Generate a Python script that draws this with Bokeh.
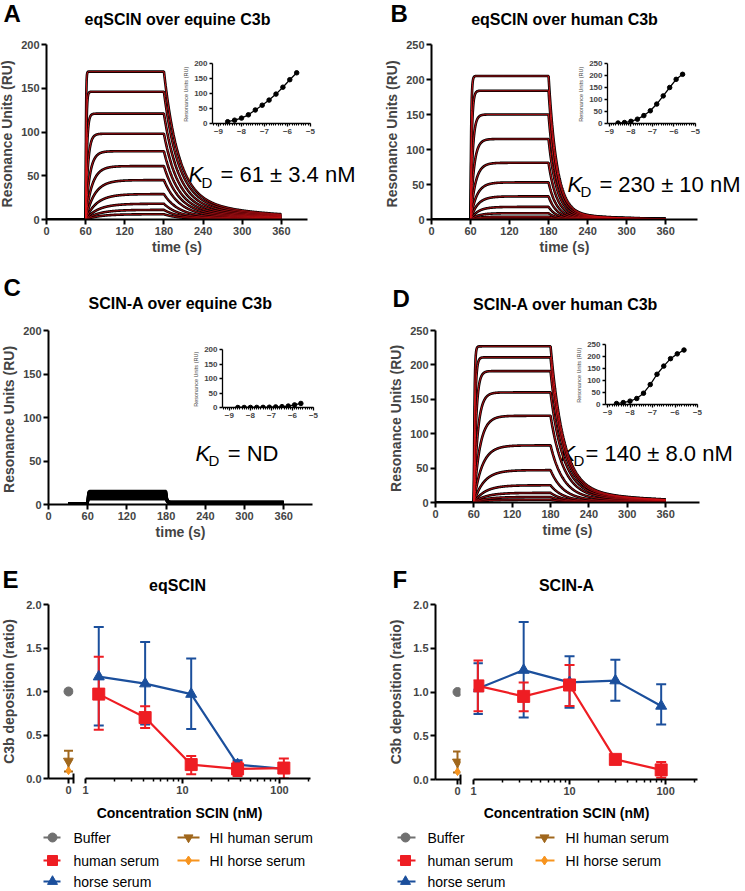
import numpy as np
from bokeh.plotting import figure
from bokeh.layouts import column
from bokeh.models import (Range1d, FixedTicker, SingleIntervalTicker, NumeralTickFormatter,
                          Label, Whisker, TeeHead, ColumnDataSource)
from bokeh.embed import file_html
from bokeh.resources import INLINE

FONT = "Liberation Sans"

# ---------------- data ----------------
log_conc = [-5.6, -5.9, -6.2, -6.5, -6.8, -7.1, -7.4, -7.7, -8.0, -8.3, -8.6]
ru_A = [169, 146, 121, 98, 78, 61, 45, 29, 18, 11, 6]
ru_B = [205, 184, 150, 115, 81, 53, 33, 18, 9, 4, 2]
ru_D = [227, 211, 191, 160, 126, 83, 47, 25, 14, 8, 4]
ru_C = [14, 9, 5, 3, 2, 1, 0.5, 0.3, 0.2, 0.1, 0]
spr_C_levels = [14.5, 13.5, 12.5, 11.5, 10.5, 9.5, 8.5, 7.5, 6.5, 5.5, 5.0]
spr_C_base = 1.0

# kinetic read-outs used for the fitted sensorgrams (1:1 model)
kd_nM = {"A": 61, "B": 230, "D": 140}
koff_fast = {"A": 0.045, "B": 0.08, "D": 0.05}
frac_fast = {"A": 0.85, "B": 0.95, "D": 0.90}
koff_slow = {"A": 0.008, "B": 0.012, "D": 0.009}

time_ticks = [0, 60, 120, 180, 240, 300, 360]
ru_ticks_200 = [0, 50, 100, 150, 200]
ru_ticks_250 = [0, 50, 100, 150, 200, 250]
ratio_ticks = [0.0, 0.5, 1.0, 1.5, 2.0]

conc_E = [1.37, 4.12, 12.3, 37, 111]
human_E = [0.97, 0.70, 0.16, 0.11, 0.12]
human_E_lo = [0.56, 0.58, 0.05, 0.03, 0.0]
human_E_hi = [1.40, 0.83, 0.26, 0.19, 0.23]
horse_E = [1.17, 1.09, 0.97, 0.16, 0.11]
horse_E_lo = [0.61, 0.62, 0.57, 0.11, 0.08]
horse_E_hi = [1.74, 1.57, 1.38, 0.21, 0.14]

conc_F = [1.11, 3.33, 10, 30, 90]
human_F = [1.07, 0.95, 1.08, 0.23, 0.11]
human_F_lo = [0.78, 0.78, 0.84, 0.21, 0.02]
human_F_hi = [1.36, 1.11, 1.31, 0.25, 0.20]
horse_F = [1.04, 1.25, 1.11, 1.13, 0.84]
horse_F_lo = [0.75, 0.71, 0.82, 0.90, 0.63]
horse_F_hi = [1.33, 1.80, 1.41, 1.37, 1.09]

buffer_val = 1.0
hi_human = 0.20
hi_human_lo = 0.08
hi_human_hi = 0.32
hi_horse = 0.09

legend_names = ["Buffer", "human serum", "horse serum", "HI human serum", "HI horse serum"]

RED = "#EE1D23"
BLUE = "#1B4F9C"
GRAY = "#707070"
BROWN = "#A0671C"
ORANGE = "#F7941E"
FITRED = "#E3161C"

W, H = 745, 891
XS, YS = 372, 560          # split of the annotation layer into four pieces
PADL, PADT, PADR, PADB = 100, 40, 40, 60


# ---------------- helpers ----------------
def make_fig(frame, xr, yr, x_log=False, axes=True):
    l, t, r, b = frame
    kw = dict(x_axis_type="log") if x_log else {}
    if not axes:
        kw.update(x_axis_location=None, y_axis_location=None)
    p = figure(width=r - l + PADL + PADR, height=b - t + PADT + PADB,
               x_range=Range1d(*xr), y_range=Range1d(*yr), title=None,
               output_backend="svg", toolbar_location=None,
               min_border_left=PADL, min_border_top=PADT, min_border_right=PADR,
               min_border_bottom=PADB, background_fill_color=None,
               border_fill_color=None, outline_line_color=None, **kw)
    p.styles = {"position": "absolute", "left": f"{l - PADL}px", "top": f"{t - PADT}px"}
    p.grid.visible = False
    return p


def style_axes(p, size="11px", lw=2.0, tick=5, lab="14px", standoff=3):
    for ax in p.axis:
        ax.axis_line_width = lw
        ax.major_tick_line_width = lw
        ax.major_tick_out = tick
        ax.major_tick_in = 0
        ax.minor_tick_line_color = None
        ax.major_label_text_font = FONT
        ax.major_label_text_font_style = "bold"
        ax.major_label_text_font_size = size
        ax.major_label_standoff = 2
        ax.axis_label_text_font = FONT
        ax.axis_label_text_font_style = "bold"
        ax.axis_label_text_font_size = lab
        ax.axis_label_standoff = standoff


def sensorgram(level, logc, key):
    t = np.arange(0.0, 360.5, 0.5)
    kf, ff, ks = koff_fast[key], frac_fast[key], koff_slow[key]
    ka = kf / (kd_nM[key] * 1e-9)
    kobs = ka * 10 ** logc + kf
    r = np.zeros_like(t)
    a = (t >= 60) & (t <= 180)
    req = level / (1 - np.exp(-kobs * 120))
    r[a] = req * (1 - np.exp(-kobs * (t[a] - 60)))
    d = t > 180
    r[d] = level * (ff * np.exp(-kf * (t[d] - 180)) + (1 - ff) * np.exp(-ks * (t[d] - 180)))
    return t, r


def spr_panel(frame, xmax, ymax, yticks):
    p = make_fig(frame, (0, xmax), (0, ymax))
    style_axes(p)
    p.xaxis.ticker = FixedTicker(ticks=time_ticks)
    p.yaxis.ticker = FixedTicker(ticks=yticks)
    p.xaxis.axis_label = "time (s)"
    p.yaxis.axis_label = "Resonance Units  (RU)"
    p.xaxis.axis_label_standoff = 1
    return p


def inset_fig(frame, xmin, ymax, yticks, ys):
    p = make_fig(frame, (xmin, -5), (0, ymax))
    style_axes(p, size="8px", lw=1.3, tick=3, lab="5.5px", standoff=2)
    p.xaxis.ticker = SingleIntervalTicker(interval=1, num_minor_ticks=10)
    p.xaxis.minor_tick_line_color = "black"
    p.xaxis.minor_tick_out = 2
    p.xaxis.minor_tick_in = 0
    p.xaxis.minor_tick_line_width = 1
    p.yaxis.ticker = FixedTicker(ticks=yticks)
    p.yaxis.axis_label = "Resonance Units  (RU)"
    p.yaxis.axis_label_text_font_style = "normal"
    order = np.argsort(log_conc)
    xs_ = [log_conc[i] for i in order]
    ys_ = [ys[i] for i in order]
    p.line(xs_, ys_, line_color="black", line_width=1.3)
    p.scatter(xs_, ys_, size=4.5, color="black")
    return p


# ---------------- annotation layer (titles, letters, notes, legends) ----------------
pages = []
for (x0, y0, x1, y1) in [(0, 0, XS, YS), (XS, 0, W, YS), (0, YS, XS, H), (XS, YS, W, H)]:
    pages.append(make_fig((x0, y0, x1, y1), (x0, x1), (y1, y0), axes=False))


def page_for(x, y):
    return pages[(1 if x >= XS else 0) + (2 if y >= YS else 0)]


def lab(x, y, text, size, style="normal", align="left", color="black"):
    page_for(x, y).add_layout(Label(x=x, y=y, text=text, text_font=FONT, text_font_size=size,
                                    text_font_style=style, text_align=align,
                                    text_baseline="middle", text_color=color))


for x, y, s in [(3, 13, "A"), (390, 13, "B"), (3, 287, "C"), (392, 298, "D"),
                (2, 579, "E"), (392, 579, "F")]:
    lab(x, y, s, "24px", "bold")

for x, y, s in [(177, 19, "eqSCIN over equine C3b"), (564, 19, "eqSCIN over human C3b"),
                (180, 303, "SCIN-A over equine C3b"), (565, 304, "SCIN-A over human C3b"),
                (177, 585, "eqSCIN"), (566, 585, "SCIN-A")]:
    lab(x, y, s, "16px", "bold", "center")

for x, y in [(179, 812), (566, 812)]:
    lab(x, y, "Concentration SCIN (nM)", "14px", "bold", "center")

# K_D annotations
for kx, ky, rest, rx, ralign in [(188, 174, "= 61 \u00b1 3.4 nM", 355, "right"),
                                  (567, 183.5, "= 230 \u00b1 10 nM", 740, "right"),
                                  (195, 452.5, "= ND", 278, "right"),
                                  (560, 452.5, "= 140 \u00b1 8.0 nM", 585, "left")]:
    lab(kx, ky, "K", "22px", "italic")
    lab(kx + 13, ky + 7.5, "D", "15px")
    lab(rx, ky, rest, "22px", "normal", ralign)

# legends
leg_rows = [837, 860, 881]
leg_specs = [(0, 0, "circle", GRAY, 9), (0, 1, "square", RED, 10), (0, 2, "triangle", BLUE, 10),
             (1, 0, "inverted_triangle", BROWN, 9), (1, 1, "diamond", ORANGE, 9)]
for (c1, c2) in [((43, 60, 52, 73), (177, 199, 188, 209)),
                 ((397, 415, 405, 427), (535, 554, 544, 565))]:
    cols = [c1, c2]
    for (ci, ri, mk, colr, sz), name in zip(leg_specs, legend_names):
        x0, x1, xm, xt = cols[ci]
        y = leg_rows[ri]
        pg = page_for(xm, y)
        pg.line([x0, x1], [y, y], line_color=colr, line_width=2)
        pg.scatter([xm], [y], marker=mk, size=sz, color=colr)
        lab(xt, y, name, "14px")

# ---------------- SPR panels ----------------
pA = spr_panel((46, 44, 307, 219), 400, 200, ru_ticks_200)
pB = spr_panel((431, 44, 697, 219), 409, 250, ru_ticks_250)
pC = spr_panel((48, 330, 312, 504), 404, 200, ru_ticks_200)
pD = spr_panel((435, 330, 699, 502), 413, 250, ru_ticks_250)

for p, key, levels in [(pA, "A", ru_A), (pB, "B", ru_B), (pD, "D", ru_D)]:
    xs, ys = [], []
    for lv, lc in zip(levels, log_conc):
        t, r = sensorgram(lv, lc, key)
        xs.append(t)
        ys.append(r)
    p.multi_line(xs, ys, line_color="black", line_width=2.6)
    p.multi_line(xs, ys, line_color=FITRED, line_width=0.9)

# panel C: responses without a fit (all black)
xsC, ysC = [], []
for lv in spr_C_levels:
    t = np.arange(30, 360.5, 0.5)
    r = np.full_like(t, spr_C_base)
    a = (t >= 60) & (t <= 180)
    r[a] = spr_C_base + lv * (1 - np.exp(-2.0 * (t[a] - 60)))
    d = t > 180
    r[d] = spr_C_base + lv * (0.15 + 0.85 * np.exp(-0.8 * (t[d] - 180)))
    xsC.append(t)
    ysC.append(r)
pC.multi_line(xsC, ysC, line_color="black", line_width=2.4)

# ---------------- insets ----------------
iA = inset_fig((212, 63, 310, 123), -9.26, 200, ru_ticks_200, ru_A)
iB = inset_fig((607, 63, 695, 123), -9.09, 250, ru_ticks_250, ru_B)
iC = inset_fig((222, 349, 313, 407), -9.33, 200, ru_ticks_200, ru_C)
iD = inset_fig((605, 344, 697, 404), -9.09, 250, ru_ticks_250, ru_D)


# ---------------- dose-response panels ----------------
def zero_part(frame, xr):
    p = make_fig(frame, xr, (0, 2.0))
    style_axes(p)
    p.xaxis.ticker = FixedTicker(ticks=[0], minor_ticks=[xr[1] - 0.02])
    p.xaxis.minor_tick_line_color = "black"
    p.xaxis.minor_tick_line_width = 2
    p.xaxis.minor_tick_in = 5
    p.xaxis.minor_tick_out = 5
    p.yaxis.ticker = FixedTicker(ticks=ratio_ticks)
    p.yaxis.formatter = NumeralTickFormatter(format="0.0")
    p.yaxis.axis_label = "C3b deposition (ratio)"
    p.yaxis.axis_label_standoff = 6
    src = ColumnDataSource(dict(x=[0], y=[hi_human], lo=[hi_human_lo], hi=[hi_human_hi]))
    p.add_layout(Whisker(source=src, base="x", upper="hi", lower="lo", dimension="height",
                         line_color=BROWN, line_width=2,
                         upper_head=TeeHead(size=9, line_color=BROWN, line_width=2),
                         lower_head=TeeHead(size=9, line_color=BROWN, line_width=2)))
    p.scatter([0], [buffer_val], marker="circle", size=9, color=GRAY)
    p.scatter([0], [hi_horse], marker="diamond", size=8, color=ORANGE)
    p.scatter([0], [hi_human], marker="inverted_triangle", size=10, color=BROWN)
    return p


def log_part(frame, xmax, conc, hum, hlo, hhi, hor, olo, ohi):
    p = make_fig(frame, (1, xmax), (0, 2.0), x_log=True)
    style_axes(p)
    p.yaxis.visible = False
    minors = [m * d for d in (1, 10, 100) for m in range(2, 10) if m * d < xmax]
    p.xaxis.ticker = FixedTicker(ticks=[1, 10, 100], minor_ticks=minors)
    p.xaxis.formatter = NumeralTickFormatter(format="0")
    p.xaxis.minor_tick_line_color = "black"
    p.xaxis.minor_tick_line_width = 1.5
    p.xaxis.minor_tick_out = 3
    p.xaxis.minor_tick_in = 0
    for vals, lo, hi, colr in [(hor, olo, ohi, BLUE), (hum, hlo, hhi, RED)]:
        src = ColumnDataSource(dict(x=conc, y=vals, lo=lo, hi=hi))
        p.add_layout(Whisker(source=src, base="x", upper="hi", lower="lo", dimension="height",
                             line_color=colr, line_width=2,
                             upper_head=TeeHead(size=10, line_color=colr, line_width=2),
                             lower_head=TeeHead(size=10, line_color=colr, line_width=2)))
    p.line(conc, hor, line_color=BLUE, line_width=2.2)
    p.scatter(conc, hor, marker="triangle", size=11, color=BLUE)
    p.line(conc, hum, line_color=RED, line_width=2.2)
    p.scatter(conc, hum, marker="square", size=12, color=RED)
    return p


pE0 = zero_part((48, 604, 73, 778), (-1.0, 0.25))
pE1 = log_part((85, 604, 310, 778), 209, conc_E, human_E, human_E_lo, human_E_hi,
               horse_E, horse_E_lo, horse_E_hi)
pF0 = zero_part((435, 604, 460, 779), (-2.2, 0.3))
pF1 = log_part((473, 604, 697, 779), 215, conc_F, human_F, human_F_lo, human_F_hi,
               horse_F, horse_F_lo, horse_F_hi)

root = column(*pages, pA, pB, pC, pD, iA, iB, iC, iD, pE0, pE1, pF0, pF1,
              width=W, height=H)
root.styles = {"position": "absolute", "left": "0px", "top": "0px", "overflow": "hidden"}

open("out.html", "w").write(file_html(root, INLINE))
